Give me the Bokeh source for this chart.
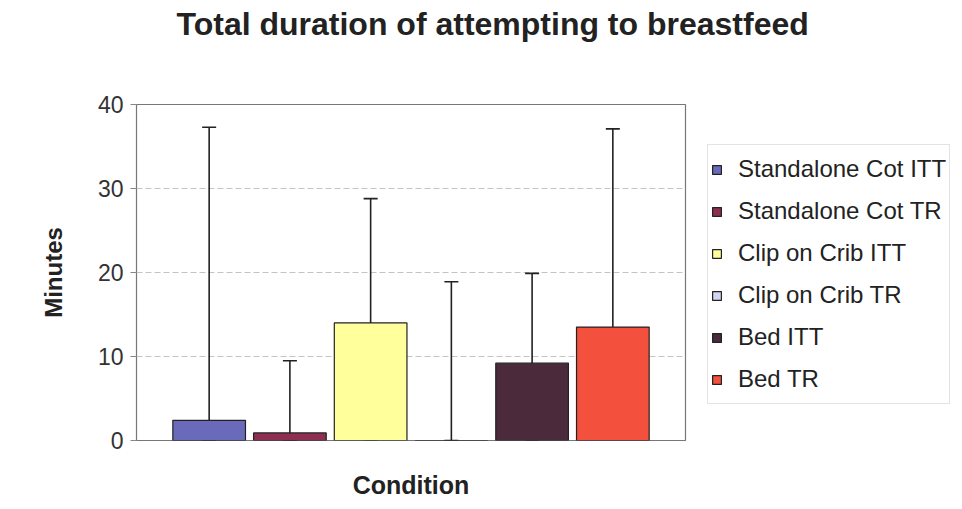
from bokeh.plotting import figure
from bokeh.models import ColumnDataSource, Range1d, Whisker, FixedTicker, Legend, LegendItem, Title
from bokeh.embed import file_html
from bokeh.resources import INLINE

# ---- data ----
series = ["Standalone Cot ITT", "Standalone Cot TR", "Clip on Crib ITT",
          "Clip on Crib TR", "Bed ITT", "Bed TR"]
means = [2.4, 0.9, 14.0, 0.0, 9.2, 13.5]
err_upper = [37.3, 9.5, 28.8, 18.9, 19.9, 37.1]
err_lower = [0.0, 0.0, 0.0, 0.0, 0.0, 0.3]
colors = ["#6a6abb", "#8e2f52", "#ffff9c", "#d4d4f4", "#4b2a3c", "#f4503e"]
y_ticks = [0, 10, 20, 30, 40]

FONT = "Liberation Sans"

positions = list(range(len(series)))
src = ColumnDataSource(dict(x=positions, top=means, color=colors, series=series,
                            upper=err_upper, lower=err_lower))

p = figure(frame_width=549, frame_height=336, output_backend="svg", toolbar_location=None,
           x_range=Range1d(-0.9, len(series) - 0.1), y_range=Range1d(0, 40),
           min_border_left=136, min_border_top=104, min_border_bottom=60, min_border_right=275,
           background_fill_color="white", border_fill_color="white")

p.title = Title(text="Total duration of attempting to breastfeed", align="left", offset=40,
                text_font=FONT, text_font_size="32px", text_font_style="bold",
                text_color="#222222", standoff=6)

# empty spacer between the title and the plot area
spacer = Title(text=" ", text_font_size="2px", standoff=56)
p.add_layout(spacer, "above")

bars = p.vbar(x="x", top="top", bottom=0, width=0.9, source=src, fill_color="color",
              line_color="#222222", line_width=1.2)

wh = Whisker(base="x", upper="upper", lower="lower", source=src,
             line_color="#222222", line_width=1.6)
wh.upper_head.size = 14
wh.upper_head.line_color = "#222222"
wh.upper_head.line_width = 1.6
wh.lower_head.size = 14
wh.lower_head.line_color = "#222222"
wh.lower_head.line_width = 1.6
p.add_layout(wh)

# axes
p.outline_line_color = "#777777"
p.outline_line_width = 1.2

p.xaxis.ticker = FixedTicker(ticks=[])
p.xaxis.major_label_text_font_size = "0px"
p.xaxis.major_tick_out = 0
p.xaxis.major_tick_in = 0
p.xaxis.minor_tick_out = 0
p.xaxis.axis_line_color = None
p.xaxis.axis_label = "Condition"
p.xaxis.axis_label_text_font = FONT
p.xaxis.axis_label_text_font_size = "25px"
p.xaxis.axis_label_text_font_style = "bold"
p.xaxis.axis_label_text_color = "#222222"
p.xaxis.axis_label_standoff = 30

p.yaxis.ticker = FixedTicker(ticks=y_ticks)
p.yaxis.axis_line_color = None
p.yaxis.major_tick_out = 6
p.yaxis.major_tick_in = 0
p.yaxis.major_tick_line_color = "#888888"
p.yaxis.minor_tick_out = 0
p.yaxis.minor_tick_in = 0
p.yaxis.major_label_text_font = FONT
p.yaxis.major_label_text_font_size = "23px"
p.yaxis.major_label_text_color = "#333333"
p.yaxis.major_label_standoff = 7
p.yaxis.axis_label = "Minutes"
p.yaxis.axis_label_text_font = FONT
p.yaxis.axis_label_text_font_size = "24px"
p.yaxis.axis_label_text_font_style = "bold"
p.yaxis.axis_label_text_color = "#222222"
p.yaxis.axis_label_standoff = 28

p.xgrid.grid_line_color = None
p.ygrid.grid_line_color = "#c4c4c4"
p.ygrid.grid_line_dash = "6 3"
p.ygrid.grid_line_width = 1

items = [LegendItem(label=s, renderers=[bars], index=i) for i, s in enumerate(series)]
legend = Legend(items=items, location=(22, 36), orientation="vertical",
                label_text_font=FONT, label_text_font_size="24px", label_text_color="#222222",
                glyph_width=11, glyph_height=11, label_standoff=16, label_height=42,
                spacing=0, padding=3, margin=0,
                border_line_color="#c8c8c8", border_line_width=1,
                background_fill_color="white", background_fill_alpha=1)
p.add_layout(legend, "right")

open("out.html", "w").write(file_html(p, INLINE))
